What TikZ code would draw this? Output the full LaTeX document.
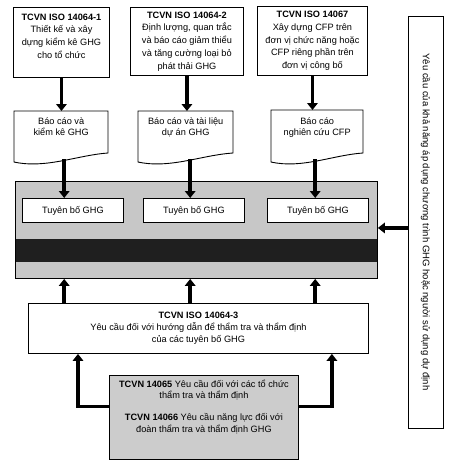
\documentclass[tikz,border=0pt]{standalone}
\usepackage{fontspec}
\setmainfont{Liberation Sans}
\usetikzlibrary{arrows.meta,calc}
\begin{document}
\begin{tikzpicture}[x=1pt,y=-1pt,
  font=\fontsize{9.2}{12}\selectfont,
  box/.style={draw, line width=0.9pt, fill=white, align=center, inner sep=1pt, anchor=north west},
  topbox/.style={box, font=\fontsize{9.2}{12.75}\selectfont},
  doc/.style={draw=none, align=center, inner sep=0pt, anchor=north west, font=\fontsize{9.2}{11}\selectfont},
  docline/.style={draw, line width=0.9pt, fill=white},
  gbox/.style={draw, line width=0.9pt, fill=black!22, anchor=north west, inner sep=0pt},
  bandbox/.style={draw=none, fill=black!88, anchor=north west, inner sep=0pt},
  stmt/.style={box, minimum width=101pt, minimum height=24pt},
  arr/.style={line width=3.6pt, -{Triangle[length=7pt,width=10.5pt]}, line join=miter},
]
\useasboundingbox (0,0) rectangle (449,466);

% top boxes
\node[topbox, minimum width=96pt, minimum height=70pt] (b1) at (13,7)
  {\textbf{TCVN ISO 14064-1}\\Thiết kế và xây\\dựng kiểm kê GHG\\cho tổ chức\\ \mbox{}};
\node[topbox, minimum width=113pt, minimum height=68pt] (b2) at (130,7)
  {\textbf{TCVN ISO 14064-2}\\Định lượng, quan trắc\\và báo cáo giảm thiểu\\và tăng cường loại bỏ\\phát thải GHG};
\node[topbox, minimum width=110pt, minimum height=69pt] (b3) at (257,6)
  {\textbf{TCVN ISO 14067}\\Xây dựng CFP trên\\đơn vị chức năng hoặc\\CFP riêng phần trên\\đơn vị công bố};

% document shapes
\path[docline] (14,162) -- (14,111) -- (108,111) -- (108,153)
  .. controls (78,155) and (46,169) .. (14,162) -- cycle;
\path[docline] (138,162) -- (138,111) -- (233,111) -- (233,153)
  .. controls (202,155) and (170,169) .. (138,162) -- cycle;
\path[docline] (271,162) -- (271,110) -- (363,110) -- (363,153)
  .. controls (333,155) and (302,169) .. (271,162) -- cycle;
\node[doc, minimum width=94pt, minimum height=52pt] (d1) at (14,111)
  {Báo cáo và\\kiểm kê GHG\\[10pt]\mbox{}};
\node[doc, minimum width=95pt, minimum height=52pt] (d2) at (138,111)
  {Báo cáo và tài liệu\\dự án GHG\\[10pt]\mbox{}};
\node[doc, minimum width=92pt, minimum height=53pt] (d3) at (271,110)
  {Báo cáo\\nghiên cứu CFP\\[10pt]\mbox{}};

% main grey box
\node[gbox, minimum width=362pt, minimum height=97pt] (g) at (15,181) {};
\node[bandbox, minimum width=361pt, minimum height=23pt] (band) at (15.5,239) {};
\node[stmt] (t1) at (22,198) {Tuyên bố GHG};
\node[stmt] (t2) at (143,198) {Tuyên bố GHG};
\node[stmt] (t3) at (267,198) {Tuyên bố GHG};

% lower boxes
\node[box, minimum width=340pt, minimum height=50pt] (v3) at (28,303)
  {\textbf{TCVN ISO 14064-3}\\Yêu cầu đối với hướng dẫn để thẩm tra và thẩm định\\của các tuyên bố GHG};
\node[box, fill=black!20, minimum width=189pt, minimum height=84pt, font=\fontsize{9.2}{11.5}\selectfont] (v5) at (109,375)
  {\textbf{TCVN 14065} Yêu cầu đối với các tổ chức\\thẩm tra và thẩm định\\[10.5pt]\textbf{TCVN 14066} Yêu cầu năng lực đối với\\đoàn thẩm tra và thẩm định GHG\\[11.5pt]\mbox{}};

% right vertical box
\node[draw, line width=0.9pt, fill=white, rotate=-90, minimum width=412pt, minimum height=35pt, inner sep=0pt, font=\fontsize{9.5}{12}\selectfont] (R) at (425.5,222)
  {Yêu cầu của khả năng áp dụng chương trình GHG hoặc người sử dụng dự định};

% arrows top -> docs
\draw[arr] (b1.south) -- (b1.south |- d1.north);
\draw[arr] (b2.south) -- (b2.south |- d2.north);
\draw[arr] (b3.south) -- (b3.south |- d3.north);

% docs -> statements
\coordinate (c1) at ([xshift=3pt]d1.south);
\coordinate (c2) at ([xshift=4.5pt]d2.south);
\coordinate (c3) at ([xshift=-2pt]d3.south);
\draw[arr] ([yshift=4pt]c1) -- (c1 |- t1.north);
\draw[arr] ([yshift=4pt]c2) -- (c2 |- t2.north);
\draw[arr] ([yshift=4pt]c3) -- (c3 |- t3.north);

% 14064-3 -> grey box
\draw[arr] (c1 |- v3.north) -- (c1 |- g.south);
\draw[arr] (c2 |- v3.north) -- (c2 |- g.south);
\draw[arr] (c3 |- v3.north) -- (c3 |- g.south);

% 14065/14066 -> 14064-3
\draw[arr] ([yshift=11pt]v5.west) -| ([xshift=50pt]v3.south west);
\draw[arr] ([yshift=11pt]v5.east) -| ([xshift=-37pt]v3.south east);

% right box -> grey box
\draw[arr] ([yshift=2pt]g.east -| R.south) -- ([yshift=2pt]g.east);
\end{tikzpicture}
\end{document}
